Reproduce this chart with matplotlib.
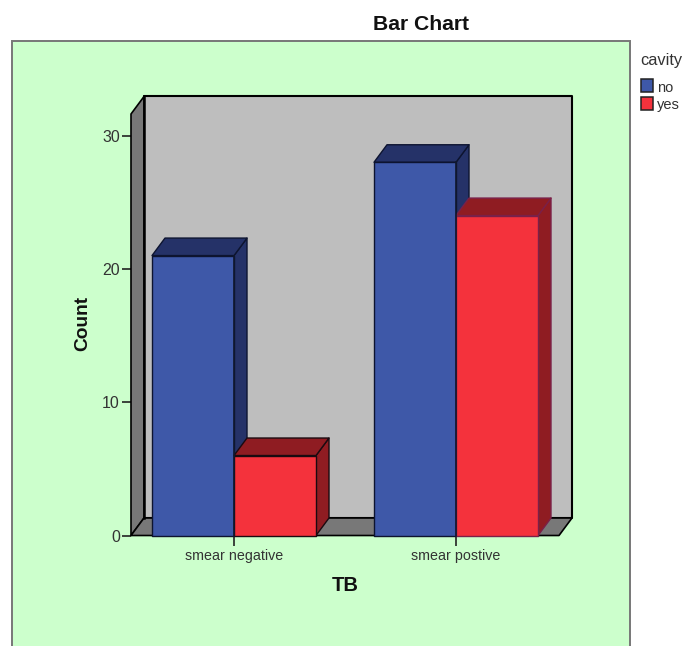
import matplotlib
matplotlib.use('Agg')
import matplotlib.pyplot as plt
from matplotlib.patches import Rectangle, Polygon

plt.rcParams['font.family'] = ['Liberation Sans', 'DejaVu Sans']

categories = ['smear negative', 'smear postive']
no_counts = [21, 28]
yes_counts = [6, 24]
yticks = [0, 10, 20, 30]
legend_names = ['no', 'yes']

W, H = 682, 646
blue, blue_dark = '#3E58A8', '#253268'
red, red_dark = '#F4323C', '#8F1C22'
wall, floor = '#BEBEBE', '#787878'
panel_col = '#CCFFCC'
txt = '#333333'

fig = plt.figure(figsize=(W / 100, H / 100), dpi=100, facecolor='white')

# green panel, runs off the bottom of the image
fig.add_artist(Rectangle((12 / W, -0.02), (629.5 - 12) / W, 0.02 + (H - 41) / H,
                         transform=fig.transFigure, facecolor=panel_col,
                         edgecolor='#777777', linewidth=1.4, zorder=-1))

# axes sit on the front plane of the 3d box
x0, x1, y0, y1 = 131, 559, 535.5, 114
ax = fig.add_axes([x0 / W, (H - y0) / H, (x1 - x0) / W, (y0 - y1) / H])
ax.patch.set_visible(False)
px_x = 222.0   # pixels per category
px_y = 13.33   # pixels per count
ax.set_xlim((x0 - 234) / px_x, (x1 - 234) / px_x)
ax.set_ylim(0, (y0 - y1) / px_y)
for s in ax.spines.values():
    s.set_visible(False)

dx, dy = 13 / px_x, 17.5 / px_y
xa, xb = ax.get_xlim()
ytop = ax.get_ylim()[1]


def poly(pts, fc, ec='black', lw=1.2, z=2):
    ax.add_patch(Polygon(pts, closed=True, facecolor=fc, edgecolor=ec, linewidth=lw,
                         zorder=z, clip_on=False, joinstyle='round'))


# box: back wall, left wall, floor
poly([(xa + dx, dy), (xb + dx, dy), (xb + dx, ytop + dy), (xa + dx, ytop + dy)], wall, lw=1.5)
poly([(xa, 0), (xa + dx, dy), (xa + dx, ytop + dy), (xa, ytop)], floor, lw=1.2)
poly([(xa, 0), (xb, 0), (xb + dx, dy), (xa + dx, dy)], floor, lw=1.2)
ax.plot([xa + dx, xa + dx], [dy, ytop + dy], color='black', lw=1.8, zorder=2.1, clip_on=False)


def bar3d(left, width, h, fc, side, ec, z):
    right = left + width
    poly([(right, 0), (right + dx, dy), (right + dx, h + dy), (right, h)], side, ec, 1.0, z)
    poly([(left, h), (right, h), (right + dx, h + dy), (left + dx, h + dy)], side, ec, 1.0, z)
    poly([(left, 0), (right, 0), (right, h), (left, h)], fc, ec, 1.0, z + 0.1)


w = 82 / px_x
edges_yes = ['#1a0a10', '#7A2048']
for i, cat in enumerate(categories):
    bar3d(i - w, w, no_counts[i], blue, blue_dark, '#0D1430', 3 + i)
    bar3d(i, w, yes_counts[i], red, red_dark, edges_yes[i], 3.5 + i)
    ax.plot([i, i], [0, no_counts[i]], color='#10182f', lw=1.2, zorder=6, clip_on=False)

ax.set_xticks(range(len(categories)))
ax.set_xticklabels(categories, fontsize=10.3, color=txt)
ax.set_yticks(yticks)
ax.tick_params(axis='y', length=6.5, width=1.2, color='#222222', labelsize=11.5, labelcolor=txt, pad=1.5)
ax.tick_params(axis='x', length=7, width=1.2, color='#222222', pad=2.5)

fig.text(421 / W, 1 - 25 / H, 'Bar Chart', fontsize=15.2, fontweight='bold', ha='center', va='center', color='#111111')
fig.text(83 / W, 1 - 323 / H, 'Count', fontsize=13.8, fontweight='bold', rotation=90, ha='center', va='center', color='#111111')
fig.text(345 / W, 1 - 585.5 / H, 'TB', fontsize=14.5, fontweight='bold', ha='center', va='center', color='#111111')

# legend
fig.text(640 / W, 1 - 60.5 / H, 'cavity', fontsize=11.8, ha='left', va='center', color=txt)
for name, col, ytop_px in zip(legend_names, [blue, red], [79, 97]):
    fig.add_artist(Rectangle((640.5 / W, 1 - (ytop_px + 12.5) / H), 12.5 / W, 12.5 / H,
                             transform=fig.transFigure, facecolor=col, edgecolor='#222222', linewidth=1.1))
    fig.text(657 / W, 1 - (ytop_px + 8.5) / H, name, fontsize=10.5, ha='left', va='center', color=txt)

fig.savefig('out.png', dpi=100)
